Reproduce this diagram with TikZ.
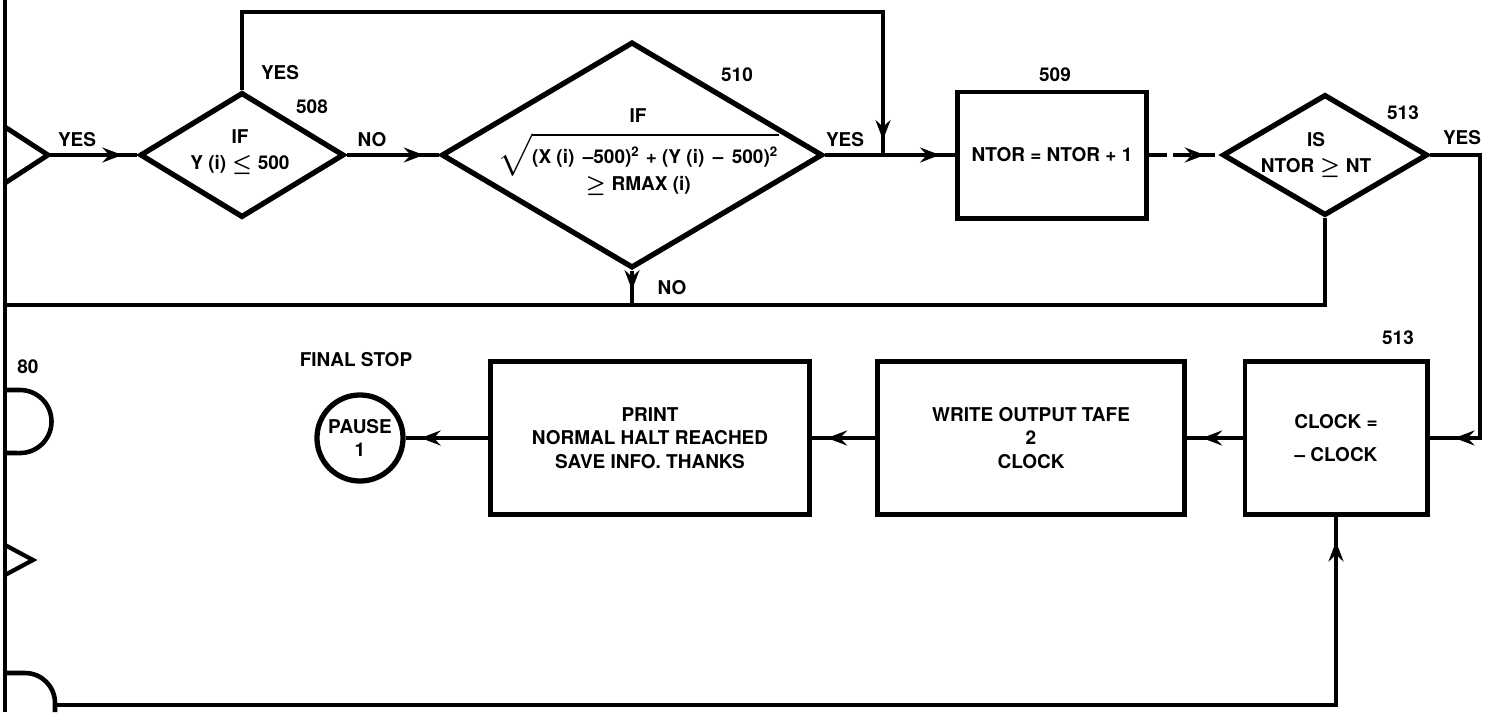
\documentclass[tikz,border=0pt]{standalone}
\usepackage{fontspec}
\newfontfamily\flowfont{TeX Gyre Heros}
\newcommand\flowtext{\flowfont\bfseries\boldmath\fontsize{5.4}{6.6}\selectfont}
\usetikzlibrary{shapes.geometric,decorations.markings,arrows.meta}

\begin{document}
\begin{tikzpicture}[x=0.01cm, y=-0.01cm, line width=0.9pt,
  every node/.style={font=\flowtext, align=center, inner sep=0pt},
  decision/.style={diamond, draw, line width=1.5pt},
  process/.style={rectangle, draw, line width=1.4pt},
  terminal/.style={circle, draw, line width=1.5pt, minimum size=0.86cm},
  flow/.style={postaction={decorate}, decoration={markings,
      mark=at position -#1 with {\arrow{Stealth[length=2mm,width=1.5mm,inset=0.7mm]}}}},
  flow/.default=0.15cm]
\useasboundingbox (0,0) rectangle (1494,712);

% left margin connectors
\draw[line width=1.3pt] (5,0) -- (5,712);
\coordinate (tipA) at (48,155);
\draw[line width=1.4pt] (5,127) -- (tipA) -- (5,183);
\draw[line width=1.3pt] (5,390) -- (20,390) arc[start angle=90, end angle=-90, radius=0.315cm] -- (5,453);
\draw[line width=1.2pt] (5,545) -- (33,560) -- (5,575);
\coordinate (botL) at (55,705);
\draw[line width=1.3pt] (5,673) -- (25,673) arc[start angle=90, end angle=0, radius=0.30cm] -- (55,712);
\node (n80) at (28,367) {80};

% top row
\node[decision, minimum width=2.04cm, minimum height=1.25cm] (d508) at (242,155) {};
\node (t508) at (240,152) {IF\\[1pt]Y (i) $\leq$ 500};
\node[decision, minimum width=3.81cm, minimum height=2.26cm] (d510) at (632,155) {};
\node (t510) at (638,152) {IF\\[2pt]$\sqrt{\mbox{(X (i) \,\textendash500)\textsuperscript{2} + (Y (i) \,\textendash\, 500)\textsuperscript{2}}}$\\[-1pt]$\geq$ RMAX (i)};
\node[process, minimum width=1.89cm, minimum height=1.26cm] (b509) at (1052,155) {NTOR = NTOR + 1};
\node[decision, minimum width=2.05cm, minimum height=1.21cm] (d513) at (1325,155) {};
\node (t513) at (1316,155) {IS\\[1pt]NTOR $\geq$ NT};

\node (yesA) at (77,140) {YES};
\node (yes508) at (280,73) {YES};
\node (n508) at (312,107) {508};
\node (no508) at (372,140) {NO};
\node (n510) at (737,75) {510};
\node (yes510) at (845,140) {YES};
\node (no510) at (672,288) {NO};
\node (n509) at (1055,75) {509};
\node (n513) at (1403,113) {513};
\node (yes513) at (1462,138) {YES};

% bottom row
\node[process, minimum width=1.82cm, minimum height=1.52cm] (clock) at (1336,438) {CLOCK =\\[3pt]\textendash\ CLOCK};
\node[process, minimum width=3.07cm, minimum height=1.52cm] (tape) at (1031,438) {WRITE OUTPUT TAFE\\2\\CLOCK};
\node[process, minimum width=3.19cm, minimum height=1.52cm] (print) at (650,438) {PRINT\\NORMAL HALT REACHED\\SAVE INFO. THANKS};
\node[terminal] (pause) at (360,438) {PAUSE\\1};
\node (finalstop) at (356,360) {FINAL STOP};
\node (n513b) at (1398,338) {513};

% connectors
\coordinate (join) at (883,155);
\coordinate (topR) at (883,12);
\coordinate (rightbend) at (1480,155);
\coordinate (loopL) at (5,305);
\coordinate (noJoin) at (632,305);
\draw[flow] (tipA) -- (d508.west);
\draw[flow] (d508.east) -- (d510.west);
\draw[flow] (d508.north) |- (topR) -- (join);
\draw[flow] (d510.east) -- (b509.west);
\draw[flow] (d510.south) -- (noJoin);
\draw[flow, dash pattern=on 0.18cm off 0.06cm] (b509.east) -- (d513.west);
\draw (d513.south) |- (loopL);
\draw[flow=0.25cm] (d513.east) -- (rightbend) |- (clock.east);
\draw[flow] (clock.west) -- (tape.east);
\draw[flow] (tape.west) -- (print.east);
\draw[flow] (print.west) -- (pause.east);
\draw[flow=0.25cm] (botL) -| (clock.south);
\end{tikzpicture}
\end{document}
